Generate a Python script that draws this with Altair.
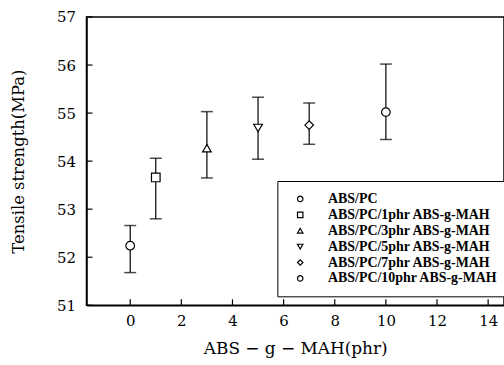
import altair as alt
import pandas as pd

# data
loading = [0, 1, 3, 5, 7, 10]
strength = [52.24, 53.66, 54.27, 54.69, 54.75, 55.02]
err_hi = [52.66, 54.06, 55.03, 55.33, 55.21, 56.02]
err_lo = [51.68, 52.80, 53.65, 54.04, 54.35, 54.45]
series = ["ABS/PC", "ABS/PC/1phr ABS-g-MAH", "ABS/PC/3phr ABS-g-MAH",
          "ABS/PC/5phr ABS-g-MAH", "ABS/PC/7phr ABS-g-MAH", "ABS/PC/10phr ABS-g-MAH"]
shapes = ["circle", "square", "triangle-up", "triangle-down", "diamond", "circle"]
x_ticks = [0, 2, 4, 6, 8, 10, 12, 14]
y_ticks = [51, 52, 53, 54, 55, 56, 57]

df = pd.DataFrame({"x": loading, "y": strength, "hi": err_hi, "lo": err_lo, "s": series})
xt = pd.DataFrame({"t": x_ticks})
yt = pd.DataFrame({"t": y_ticks})

AXFONT = "DejaVu Serif"
LGFONT = "Liberation Serif"
xs = alt.Scale(domain=[-1.71, 14.62], nice=False, zero=False)
ys = alt.Scale(domain=[51, 57], nice=False, zero=False)

common = dict(grid=False, ticks=False, labelFont=AXFONT, labelFontSize=15, labelColor="black",
              titleFont=AXFONT, titleFontWeight="normal", titleColor="black",
              domainColor="black", domainWidth=1.5)
xaxis = alt.Axis(values=x_ticks, title="ABS − g − MAH(phr)", titleFontSize=17,
                 titlePadding=13, labelPadding=8, **common)
yaxis = alt.Axis(values=y_ticks, title="Tensile strength(MPa)", titleFontSize=16.5,
                 titlePadding=30, labelPadding=11, **common)

base = alt.Chart(df)

rules = base.mark_rule(color="black", strokeWidth=1.2).encode(
    x=alt.X("x:Q", scale=xs, axis=xaxis),
    y=alt.Y("lo:Q", scale=ys, axis=yaxis),
    y2="hi:Q",
)
cap_hi = base.mark_tick(orient="horizontal", size=12, thickness=1.5, color="black").encode(
    x=alt.X("x:Q", scale=xs, axis=xaxis), y=alt.Y("hi:Q", scale=ys, axis=yaxis))
cap_lo = base.mark_tick(orient="horizontal", size=12, thickness=1.5, color="black").encode(
    x=alt.X("x:Q", scale=xs, axis=xaxis), y=alt.Y("lo:Q", scale=ys, axis=yaxis))

pts = base.mark_point(filled=True, color="white", stroke="black",
                      strokeWidth=1.2, size=75, opacity=1).encode(
    x=alt.X("x:Q", scale=xs, axis=xaxis),
    y=alt.Y("y:Q", scale=ys, axis=yaxis),
    shape=alt.Shape("s:N", scale=alt.Scale(domain=series, range=shapes),
                    sort=series,
                    legend=alt.Legend(title=None, orient="none", legendX=192, legendY=165,
                                      labelFont=LGFONT, labelFontSize=14, labelFontWeight="bold",
                                      labelColor="black", labelOffset=21, symbolSize=30,
                                      symbolOffset=5, symbolStrokeWidth=1.2, rowPadding=2,
                                      strokeColor="black", fillColor="white",
                                      padding=11, labelLimit=400)),
)

yticks = alt.Chart(yt).mark_rule(color="black", strokeWidth=1.2).encode(
    y=alt.Y("t:Q", scale=ys, axis=yaxis), x=alt.value(0), x2=alt.value(6))
xticks = alt.Chart(xt).mark_rule(color="black", strokeWidth=1.2).encode(
    x=alt.X("t:Q", scale=xs, axis=xaxis), y=alt.value(290), y2=alt.value(284))

chart = alt.layer(rules, cap_hi, cap_lo, yticks, xticks, pts).properties(
    width=420, height=290,
    autosize=alt.AutoSizeParams(type="none"),
    padding={"left": 87, "top": 16, "right": 0, "bottom": 59},
    background="white",
).configure_view(stroke="black", strokeWidth=1.5)

chart.save("out.html", embed_options={"renderer": "svg", "actions": False})
